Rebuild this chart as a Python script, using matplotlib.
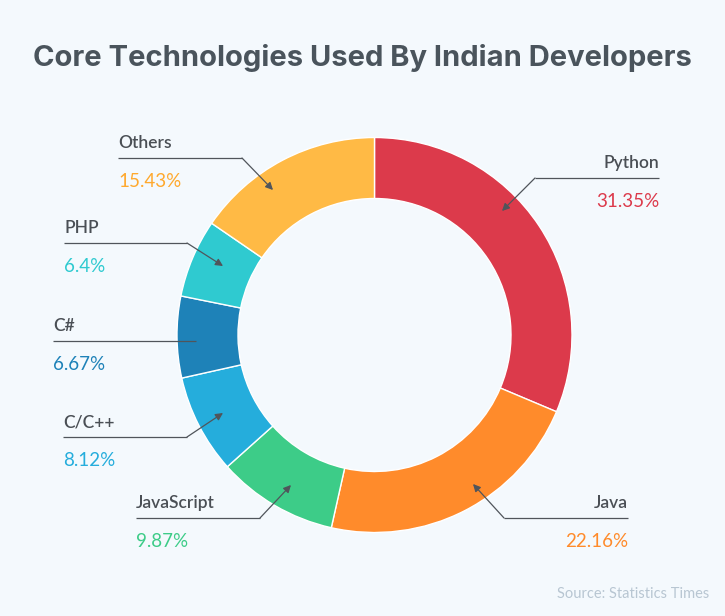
import numpy as np
import matplotlib.pyplot as plt

# Core technologies used by Indian developers (share, %)
labels = ["Python", "Java", "JavaScript", "C/C++", "C#", "PHP", "Others"]
values = [31.35, 22.16, 9.87, 8.12, 6.67, 6.4, 15.43]
pct_labels = ["31.35%", "22.16%", "9.87%", "8.12%", "6.67%", "6.4%", "15.43%"]
colors = ["#DC3A4B", "#FF8B2B", "#3DCC88", "#25ADDC", "#1E82B8", "#2FCAD0", "#FFBA45"]
pct_colors = ["#DC3A4B", "#FF8B2B", "#3DCC88", "#25ADDC", "#1E82B8", "#2FCAD0", "#FFA92E"]

# callout layout in pixels (y measured from top): line start, line end, arrow tip
W, H = 725, 616
callouts = {
    "Python":     dict(x0=535, x1=659, y=178, tip=(502, 211), side="right"),
    "Java":       dict(x0=504, x1=628, y=518, tip=(473, 484), side="right"),
    "JavaScript": dict(x0=136, x1=260, y=518, tip=(291, 485), side="left"),
    "C/C++":      dict(x0=63,  x1=187, y=437, tip=(223, 413), side="left"),
    "C#":         dict(x0=53,  x1=196, y=341, tip=(196, 341), side="left"),
    "PHP":        dict(x0=64,  x1=187, y=243, tip=(223, 266), side="left"),
    "Others":     dict(x0=118, x1=242, y=158, tip=(273, 190), side="left"),
}

BG = "#F4F9FD"
TXT = "#4A4F55"
FONT = "Lato"

def Y(y):
    return H - y

fig = plt.figure(figsize=(W / 100, H / 100), dpi=100, facecolor=BG)
ax = fig.add_axes([0, 0, 1, 1])
ax.set_facecolor(BG)

ax.pie(values, colors=colors, startangle=90, counterclock=False,
       center=(374.5, Y(335)), radius=197.5,
       wedgeprops=dict(width=61, edgecolor="white", linewidth=1.0))

ax.set_xlim(0, W)
ax.set_ylim(0, H)
ax.set_aspect("equal")
ax.axis("off")

for name, pct, pc in zip(labels, pct_labels, pct_colors):
    c = callouts[name]
    ax.plot([c["x0"], c["x1"]], [Y(c["y"]), Y(c["y"])], color="#50555B", lw=0.9,
            solid_capstyle="butt")
    corner = (c["x1"], c["y"]) if c["side"] == "left" else (c["x0"], c["y"])
    ax.annotate("", xy=(c["tip"][0], Y(c["tip"][1])), xytext=(corner[0], Y(corner[1])),
                arrowprops=dict(arrowstyle="-|>", color="#50555B", lw=0.9,
                                mutation_scale=11, shrinkA=0, shrinkB=0))
    if c["side"] == "left":
        tx, ha = c["x0"], "left"
    else:
        tx, ha = c["x1"], "right"
    ax.text(tx, Y(c["y"] - 10), name, ha=ha, va="baseline", fontsize=12.5,
            color=TXT, family=FONT, fontweight="semibold")
    ax.text(tx, Y(c["y"] + 29), pct, ha=ha, va="baseline", fontsize=13.5,
            color=pc, family=FONT)

ax.text(362.5, Y(66), "Core Technologies Used By Indian Developers", ha="center",
        va="baseline", fontsize=21, fontweight="bold", color="#4A545C", family="Inter")
ax.text(709, Y(598), "Source: Statistics Times", ha="right", va="baseline",
        fontsize=10.5, color="#B8C6D2", family=FONT)

fig.savefig("out.png", dpi=100, facecolor=BG)
